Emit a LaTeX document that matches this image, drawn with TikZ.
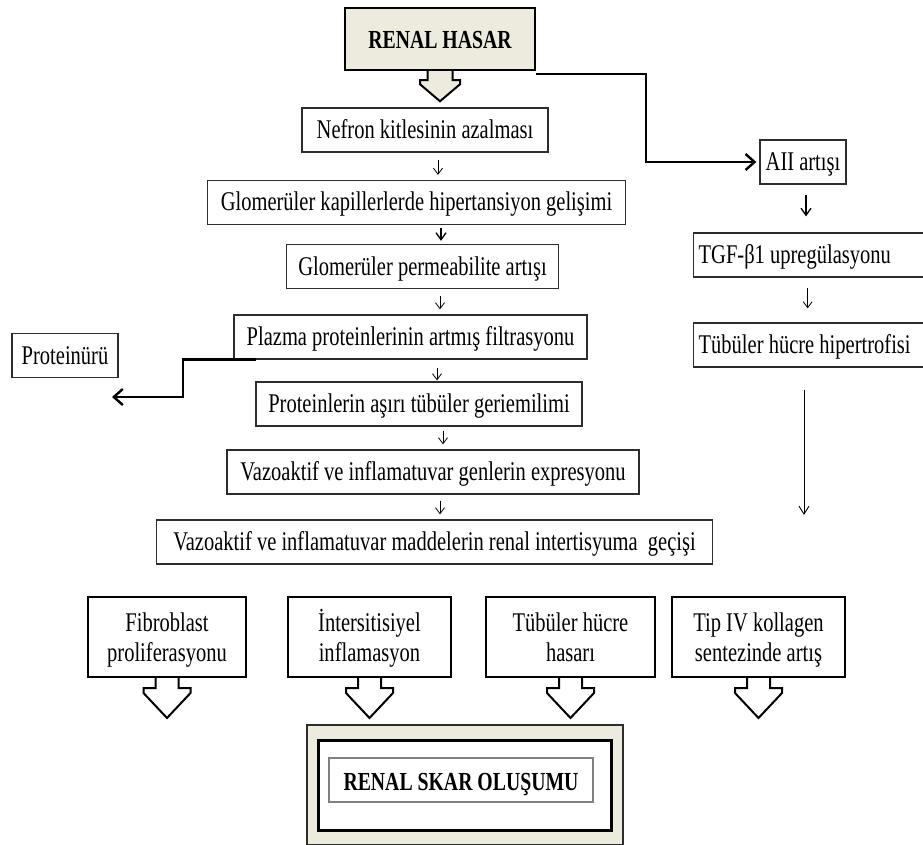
\documentclass[tikz,border=0pt]{standalone}
\usepackage{fontspec}
\setmainfont{Liberation Serif}[FakeStretch=0.76]
\usetikzlibrary{arrows.meta}
\definecolor{paper}{RGB}{237,234,222}
\definecolor{edge}{RGB}{45,45,45}

% downward block arrow hanging under a box:
% #1 node, #2 stem half width, #3 wing half width, #4 stem length,
% #5 wing drop, #6 tip drop, #7 fill colour
\newcommand{\tabarrow}[7]{%
  \draw[line width=2pt, fill=#7] (#1.south) ++(-#2,0) -- ++(0,#4) -- ++(#2-#3,0)
    -- ++(0,#5) -- ++(#3,#6) -- ++(#3,-#6) -- ++(0,-#5) -- ++(#2-#3,0) -- ++(0,-#4);}

\begin{document}
\begin{tikzpicture}[x=1pt,y=-1pt,
  txt/.style={font=\fontsize{27}{30}\selectfont, text height=18pt, text depth=1pt, inner sep=0pt},
  box/.style={txt, draw=edge, line width=1.3pt, fill=white, minimum height=44pt},
  title/.style={font=\fontsize{26}{30}\selectfont\bfseries, text height=20pt, text depth=0pt, inner sep=0pt},
  tabbox/.style={font=\fontsize{27}{30}\selectfont, align=center, draw=black, line width=2pt,
    fill=white, text height=48pt, text depth=0pt, inner sep=0pt, minimum height=80pt},
  flowarr/.style={line width=0.8pt, -{Straight Barb[length=6pt,width=9pt]}},
  boldarr/.style={line width=1.3pt, -{Straight Barb[length=7pt,width=10pt]}},
  heavy/.style={line width=2.4pt, -{Straight Barb[length=9pt,width=16pt]}},
]
\useasboundingbox (0,0) rectangle (923,845);

% --- main chain ---
\node[title, draw=black, line width=2.5pt, fill=paper, minimum width=190pt, minimum height=62pt] (hasar) at (440,39) {RENAL HASAR};
\tabarrow{hasar}{12.5}{20}{9}{4}{17}{paper}

\node[box, minimum width=246pt] (nef)  at (425,130)   {Nefron kitlesinin azalması};
\node[box, minimum width=418pt] (glo)  at (416.5,202.5) {Glomerüler kapillerlerde hipertansiyon gelişimi};
\node[box, minimum width=272pt] (perm) at (422.5,266.5) {Glomerüler permeabilite artışı};
\node[box, minimum width=353pt] (plaz) at (410.5,337) {Plazma proteinlerinin artmış filtrasyonu};
\node[box, minimum width=326pt] (prot) at (419,404)   {Proteinlerin aşırı tübüler geriemilimi};
\node[box, minimum width=412pt] (gen)  at (433,472)   {Vazoaktif ve inflamatuvar genlerin expresyonu};
\node[box, minimum width=556pt] (madd) at (434.5,542) {Vazoaktif ve inflamatuvar maddelerin renal intertisyuma~ geçişi};

\node[box, minimum width=106pt] (pu) at (65,355.5) {Proteinürü};

% --- side chain ---
\node[box, minimum width=86pt]  (aii) at (803,162) {AII artışı};
\node[box, minimum width=236pt, anchor=west] (tgf) at (693,255) {\makebox[226pt][l]{TGF-β1 upregülasyonu}};
\node[box, minimum width=236pt, anchor=west] (tub) at (693,345) {\makebox[226pt][l]{Tübüler hücre hipertrofisi}};

% --- small step arrows ---
\coordinate (a1) at ([xshift=13pt]nef.south);
\draw[flowarr, shorten <=7pt, shorten >=5pt] (a1) -- (a1 |- glo.north);
\coordinate (a2) at ([xshift=24.5pt]glo.south);
\draw[boldarr, shorten <=3pt, shorten >=3pt] (a2) -- (a2 |- perm.north);
\coordinate (a3) at ([xshift=17.5pt]perm.south);
\draw[flowarr, shorten <=7pt, shorten >=5pt] (a3) -- (a3 |- plaz.north);
\coordinate (a4) at ([xshift=26.5pt]plaz.south);
\draw[flowarr, shorten <=8pt, shorten >=1pt] (a4) -- (a4 |- prot.north);
\coordinate (a5) at ([xshift=24pt]prot.south);
\draw[flowarr, shorten <=4pt, shorten >=5pt] (a5) -- (a5 |- gen.north);
\coordinate (a6) at ([xshift=7pt]gen.south);
\draw[flowarr, shorten <=6pt, shorten >=5pt] (a6) -- (a6 |- madd.north);

\coordinate (b1) at ([xshift=3pt]aii.south);
\draw[boldarr, shorten <=10pt, shorten >=16pt] (b1) -- (b1 |- tgf.north);
\coordinate (b2) at ([xshift=-4pt]tgf.south);
\draw[flowarr, shorten <=10pt, shorten >=14pt] (b2) -- (b2 |- tub.north);
\coordinate (tubend) at (804,515);
\draw[line width=0.9pt, -{Straight Barb[length=8pt,width=10pt]}, shorten <=22pt] (tubend |- tub.south) -- (tubend);

% --- heavy connectors ---
\draw[heavy, shorten >=3pt] ([yshift=-3pt]hasar.south east) -- ++(110,0) |- (aii.west);
\coordinate (puend) at (112,397);
\draw[heavy] ([xshift=23pt]plaz.south west) -| ([xshift=71pt]puend) -- (puend);

% --- contributing factors ---
\node[tabbox, minimum width=158pt] (fib) at (167,637)   {Fibroblast\\proliferasyonu};
\node[tabbox, minimum width=163pt] (int) at (369.5,637) {İntersitisiyel\\inflamasyon};
\node[tabbox, minimum width=169pt] (tha) at (570.5,637) {Tübüler hücre\\hasarı};
\node[tabbox, minimum width=173pt] (col) at (758.5,637) {Tip IV kollagen\\sentezinde artış};
\tabarrow{fib}{11.5}{23.5}{10}{5}{25}{white}
\tabarrow{int}{11.5}{23.5}{10}{5}{25}{white}
\tabarrow{tha}{11.5}{23.5}{10}{5}{25}{white}
\tabarrow{col}{11.5}{23.5}{10}{5}{25}{white}

% --- outcome ---
\node[draw=edge, line width=1.5pt, fill=paper, minimum width=316pt, minimum height=120pt, inner sep=0pt] (skarout) at (465,785) {};
\node[draw=black, line width=3pt, fill=white, minimum width=293pt, minimum height=90pt, inner sep=0pt] (skarmid) at (464.5,785) {};
\node[title, draw=gray, line width=1.5pt, fill=white, minimum width=264pt, minimum height=44pt] (skar) at (461,780) {RENAL SKAR OLUŞUMU};
\end{tikzpicture}
\end{document}
